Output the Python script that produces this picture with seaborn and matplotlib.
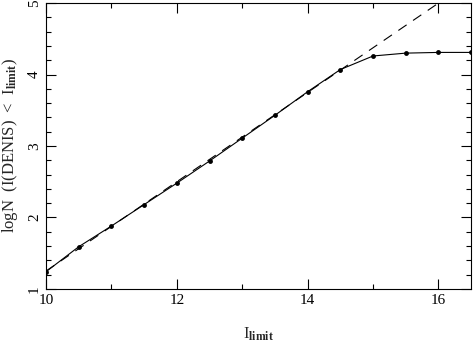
import numpy as np
import pandas as pd
import matplotlib
matplotlib.use('Agg')
import matplotlib.pyplot as plt
import seaborn as sns
from matplotlib.ticker import MultipleLocator

i_limit = [10.0, 10.5, 11.0, 11.5, 12.0, 12.5, 13.0, 13.5, 14.0, 14.5, 15.0, 15.5, 16.0, 16.5]
log_n = [1.24, 1.59, 1.88, 2.18, 2.48, 2.79, 3.11, 3.43, 3.76, 4.07, 4.26, 4.30, 4.31, 4.31]
fit_x = [10.0, 16.0]
fit_y = [1.25, 5.0]


def set_style():
    sns.set_style('ticks')
    plt.rcParams['font.family'] = ['Liberation Serif', 'DejaVu Serif']
    plt.rcParams['mathtext.fontset'] = 'custom'
    plt.rcParams['mathtext.rm'] = 'Liberation Serif'
    plt.rcParams['mathtext.bf'] = 'Liberation Serif:bold'
    plt.rcParams['mathtext.it'] = 'Liberation Serif:italic'


def plot_data(out_path):
    df = pd.DataFrame({'I_limit': i_limit, 'logN': log_n})
    fit = pd.DataFrame({'x': fit_x, 'y': fit_y})
    fig, ax = plt.subplots(figsize=(4.74, 3.46), dpi=100)
    fig.subplots_adjust(left=0.097, right=0.994, bottom=0.165, top=0.991)
    sns.lineplot(data=fit, x='x', y='y', ax=ax, color='black', lw=0.8,
                 linestyle=(0, (9, 7)))
    sns.lineplot(data=df, x='I_limit', y='logN', ax=ax, color='black', lw=0.8,
                 marker='o', markersize=3.5, markeredgewidth=0)
    ax.set_xlim(10, 16.5)
    ax.set_ylim(1, 5)
    ax.xaxis.set_major_locator(MultipleLocator(2))
    ax.xaxis.set_minor_locator(MultipleLocator(1))
    ax.yaxis.set_major_locator(MultipleLocator(1))
    ax.yaxis.set_minor_locator(MultipleLocator(0.2))
    ax.tick_params(which='both', direction='in', top=True, right=True,
                   width=0.8, labelsize=11, colors='black')
    ax.tick_params(which='major', length=7)
    ax.tick_params(which='minor', length=3.5)
    ax.tick_params(axis='y', labelrotation=90)
    for lab in ax.get_yticklabels():
        lab.set_va('center')
    for s in ax.spines.values():
        s.set_linewidth(0.8)
        s.set_color('black')
    ax.set_xlabel(r'I$_{\mathbf{limit}}$', fontsize=12)
    ax.xaxis.set_label_coords(0.5, -0.13)
    ax.set_ylabel(r'logN  (I(DENIS)  <  I$_{\mathbf{limit}}$)', fontsize=12)
    ax.yaxis.set_label_coords(-0.06, 0.5)
    fig.savefig(out_path, facecolor='white')
    plt.close(fig)


def main():
    set_style()
    plot_data('out.png')


if __name__ == "__main__":
    main()
